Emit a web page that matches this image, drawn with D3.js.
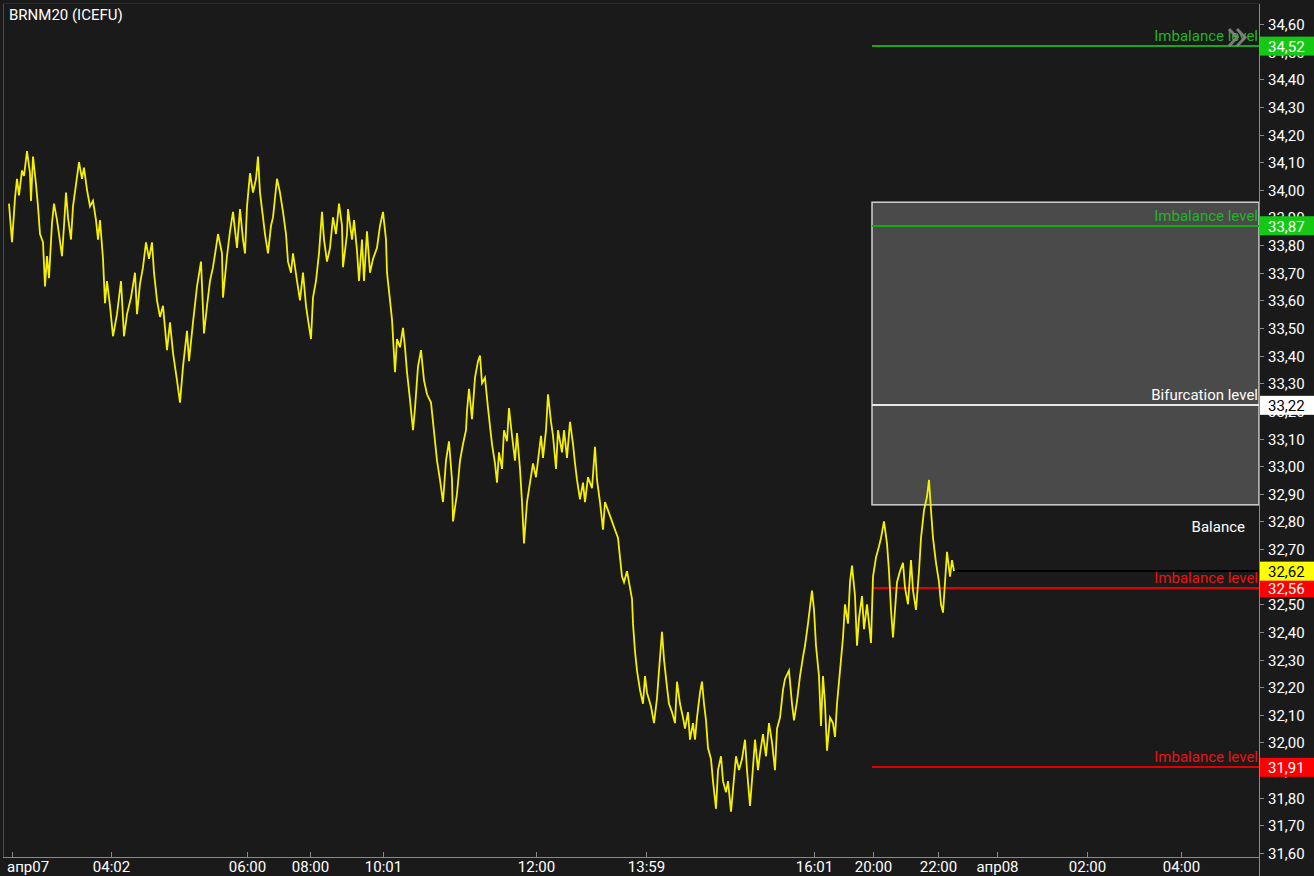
<!DOCTYPE html>
<html><head><meta charset="utf-8">
<script src="https://cdn.jsdelivr.net/npm/d3@7"></script>
<style>
html,body{margin:0;padding:0;background:#1a1a1a;overflow:hidden}
svg{display:block}
text{font-family:Roboto,"Noto Sans",sans-serif;}
</style>
</head><body>
<svg id="c" width="1314" height="876"></svg>
<script>
const title = "BRNM20 (ICEFU)";
// [bar index, price]
const series = [
[0,33.95],[3,33.81],[6,33.97],[8,34.04],[10,33.98],[13,34.07],[15,34.05],[18,34.14],[21,34.06],[22,33.96],
[24,34.12],[27,34.02],[29,33.94],[31,33.84],[34,33.81],[36,33.65],[38,33.76],[40,33.68],[43,33.88],[45,33.95],
[48,33.89],[50,33.84],[53,33.76],[55,33.87],[57,33.99],[59,33.90],[62,33.82],[64,33.94],[67,34.02],[70,34.10],
[73,34.04],[75,34.08],[78,34.00],[81,33.94],[84,33.96],[87,33.89],[89,33.82],[91,33.89],[94,33.75],[96,33.59],
[98,33.67],[101,33.58],[104,33.47],[108,33.55],[112,33.67],[115,33.47],[118,33.55],[122,33.61],[126,33.70],[128,33.55],
[131,33.66],[134,33.72],[137,33.81],[140,33.75],[143,33.81],[145,33.70],[148,33.60],[151,33.54],[154,33.58],[158,33.42],
[161,33.52],[164,33.41],[168,33.31],[171,33.23],[174,33.36],[178,33.49],[180,33.38],[184,33.52],[188,33.65],[192,33.74],
[195,33.48],[198,33.58],[201,33.67],[204,33.72],[207,33.79],[209,33.84],[213,33.77],[214,33.61],[218,33.76],[221,33.85],
[224,33.92],[228,33.79],[231,33.93],[234,33.82],[236,33.77],[238,33.94],[241,34.06],[244,33.99],[247,34.04],[249,34.12],
[251,33.99],[254,33.90],[256,33.84],[259,33.77],[262,33.87],[264,33.90],[268,34.04],[271,33.99],[274,33.92],[277,33.84],
[279,33.74],[282,33.70],[284,33.77],[288,33.67],[291,33.60],[294,33.70],[297,33.58],[299,33.53],[302,33.46],[304,33.61],
[307,33.67],[310,33.77],[313,33.92],[315,33.82],[318,33.74],[321,33.79],[324,33.90],[327,33.84],[330,33.95],[333,33.87],
[334,33.72],[338,33.84],[339,33.93],[343,33.82],[345,33.89],[348,33.78],[350,33.67],[353,33.82],[355,33.67],[358,33.85],
[361,33.70],[364,33.75],[368,33.79],[371,33.87],[374,33.92],[377,33.82],[378,33.70],[381,33.60],[383,33.53],[386,33.34],
[388,33.46],[391,33.43],[394,33.50],[396,33.43],[398,33.34],[401,33.24],[404,33.13],[406,33.21],[409,33.36],[412,33.42],
[415,33.31],[418,33.26],[422,33.23],[424,33.16],[428,33.02],[431,32.95],[434,32.87],[437,33.02],[440,33.09],[443,32.95],
[444,32.80],[448,32.90],[451,33.02],[454,33.08],[457,33.13],[458,33.20],[460,33.28],[463,33.17],[466,33.32],[469,33.38],
[471,33.40],[473,33.30],[476,33.32],[479,33.21],[483,33.08],[486,33.01],[488,32.94],[490,33.05],[493,32.99],[495,33.13],
[498,33.09],[500,33.21],[503,33.11],[506,33.02],[508,33.12],[511,32.99],[513,32.87],[515,32.72],[518,32.87],[521,32.94],
[524,33.01],[527,32.96],[529,33.02],[532,33.11],[534,33.03],[537,33.13],[539,33.26],[542,33.16],[544,33.11],[547,32.99],
[549,33.13],[553,33.05],[555,33.13],[558,33.03],[561,33.16],[564,33.08],[566,33.01],[568,32.95],[571,32.88],[574,32.94],
[576,32.87],[579,32.96],[583,32.92],[586,33.07],[588,32.95],[591,32.87],[594,32.77],[596,32.87],[599,32.84],[603,32.80],
[606,32.77],[609,32.74],[611,32.67],[613,32.60],[615,32.58],[618,32.62],[620,32.58],[623,32.52],[624,32.43],[626,32.33],
[628,32.26],[631,32.19],[634,32.14],[636,32.24],[638,32.18],[642,32.13],[645,32.07],[648,32.16],[650,32.26],[653,32.40],
[655,32.30],[658,32.20],[660,32.14],[663,32.11],[666,32.07],[668,32.22],[671,32.14],[674,32.09],[676,32.05],[679,32.11],
[681,32.01],[684,32.07],[686,32.01],[688,32.09],[691,32.18],[693,32.22],[695,32.14],[697,32.08],[699,31.98],[702,31.94],
[704,31.86],[707,31.76],[709,31.90],[712,31.95],[714,31.86],[717,31.82],[719,31.86],[722,31.75],[724,31.83],[727,31.95],
[730,31.90],[733,31.94],[736,32.01],[738,31.90],[741,31.77],[744,31.91],[746,32.01],[749,31.90],[751,31.96],[754,32.03],
[757,31.95],[760,32.07],[763,32.00],[766,31.90],[768,32.05],[771,32.09],[774,32.19],[776,32.23],[780,32.26],[783,32.14],
[785,32.08],[788,32.15],[791,32.24],[794,32.31],[796,32.35],[799,32.43],[803,32.55],[805,32.48],[807,32.35],[810,32.24],
[812,32.06],[814,32.24],[816,32.14],[818,31.97],[821,32.09],[824,32.07],[826,32.02],[828,32.14],[831,32.26],[834,32.38],
[836,32.50],[839,32.43],[841,32.58],[843,32.64],[846,32.53],[848,32.35],[850,32.45],[853,32.53],[855,32.41],[858,32.50],
[860,32.43],[862,32.36],[864,32.60],[867,32.67],[870,32.71],[872,32.74],[875,32.80],[878,32.72],[880,32.62],[882,32.48],
[884,32.38],[886,32.48],[888,32.58],[891,32.62],[894,32.65],[896,32.56],[899,32.50],[902,32.66],[904,32.55],[907,32.48],
[910,32.62],[912,32.74],[915,32.84],[918,32.89],[920,32.95],[922,32.84],[924,32.74],[927,32.65],[930,32.58],[932,32.50],
[934,32.47],[936,32.58],[938,32.69],[941,32.60],[943,32.66],[945,32.62]
];
const lastPrice = 32.62;
const barDomain = [0, 1250];
const priceDomain = [31.60, 34.60];
const timeTickBars = [3, 102, 238, 301, 374, 527, 637, 805, 864, 929, 988, 1078, 1172];
const timeTickLabels = ["апр07","04:02","06:00","08:00","10:01","12:00","13:59","16:01","20:00","22:00","апр08","02:00","04:00"];
const priceTicks = [31.6,31.7,31.8,31.9,32.0,32.1,32.2,32.3,32.4,32.5,32.6,32.7,32.8,32.9,33.0,33.1,33.2,33.3,33.4,33.5,33.6,33.7,33.8,33.9,34.0,34.1,34.2,34.3,34.4,34.5,34.6];
const levelNames = ["Imbalance level","Imbalance level","Bifurcation level","Imbalance level","Imbalance level"];
const levelValues = [34.52, 33.87, 33.22, 32.56, 31.91];
const levelKinds = ["up","up","mid","down","down"];
const zoneTop = 33.955, zoneBottom = 32.86, zoneStartBar = 863;
const balanceLabel = "Balance";
const balanceValue = 32.78;

(function () {
const W = 1314, H = 876;
const pLeft = 9, pRight = 1259, pTop = 24, pBottom = 853, axisY = 857;
const FS = 15;
const x = d3.scaleLinear().domain(barDomain).range([pLeft, pRight]);
const y = d3.scaleLinear().domain(priceDomain).range([pBottom, pTop]);
const fmt = v => d3.format(".2f")(v).replace(".", ",");

const kindStyle = {
  up:   {line:"#16a816", text:"#24b424", badge:"#14c814", badgeText:"#ffffff"},
  mid:  {line:"#e6e6e6", text:"#ffffff", badge:"#ffffff", badgeText:"#000000"},
  down: {line:"#e00000", text:"#e81414", badge:"#ff0000", badgeText:"#ffffff"}
};

const svg = d3.select("#c");
svg.append("rect").attr("width", W).attr("height", H).attr("fill", "#1a1a1a");

// frame
svg.append("line").attr("x1", 3.5).attr("x2", 3.5).attr("y1", 3).attr("y2", axisY).attr("stroke", "#4a4a4a");
svg.append("line").attr("x1", 3).attr("x2", pRight).attr("y1", 3.5).attr("y2", 3.5).attr("stroke", "#2a2a2a");

// zone box
svg.append("rect")
  .attr("x", x(zoneStartBar)).attr("y", y(zoneTop))
  .attr("width", x(barDomain[1]) - x(zoneStartBar))
  .attr("height", y(zoneBottom) - y(zoneTop))
  .attr("fill", "#4a4a4a").attr("stroke", "#d0d0d0").attr("stroke-width", 1.5);

// level lines (2px)
levelValues.forEach((v, i) => {
  const s = kindStyle[levelKinds[i]];
  svg.append("line")
    .attr("x1", x(zoneStartBar)).attr("x2", pRight)
    .attr("y1", Math.round(y(v))).attr("y2", Math.round(y(v)))
    .attr("stroke", s.line).attr("stroke-width", 2)
    .attr("shape-rendering", "crispEdges");
});

// last price line
svg.append("line")
  .attr("x1", x(series[series.length - 1][0])).attr("x2", pRight)
  .attr("y1", Math.round(y(lastPrice))).attr("y2", Math.round(y(lastPrice)))
  .attr("stroke", "#000000").attr("stroke-width", 2).attr("shape-rendering", "crispEdges");

// price line
const line = d3.line().x(d => x(d[0])).y(d => y(d[1]));
svg.append("path").datum(series)
  .attr("d", line).attr("fill", "none")
  .attr("stroke", "#f5f000").attr("stroke-width", 1.8).attr("stroke-linejoin", "miter");

// level labels
levelValues.forEach((v, i) => {
  const s = kindStyle[levelKinds[i]];
  svg.append("text")
    .attr("x", pRight - 1).attr("y", y(v) - 5)
    .attr("text-anchor", "end").attr("font-size", FS)
    .attr("fill", s.text).text(levelNames[i]);
});
svg.append("text").attr("x", 1245).attr("y", y(balanceValue) + 5)
  .attr("text-anchor", "end").attr("font-size", FS).attr("fill", "#ffffff").text(balanceLabel);

// title
svg.append("text").attr("x", 9).attr("y", 20).attr("font-size", FS).attr("fill", "#ffffff").text(title);

// y axis
svg.append("line").attr("x1", pRight + 0.5).attr("x2", pRight + 0.5).attr("y1", 4).attr("y2", H).attr("stroke", "#8a8a8a");
const yAxis = svg.append("g");
priceTicks.forEach(v => {
  const yy = Math.round(y(v)) + 0.5;
  yAxis.append("line").attr("x1", pRight).attr("x2", pRight + 5).attr("y1", yy).attr("y2", yy).attr("stroke", "#8a8a8a");
  yAxis.append("text").attr("x", 1268).attr("y", yy + 5.5).attr("font-size", FS).attr("fill", "#ffffff").text(fmt(v));
});

// x axis
svg.append("line").attr("x1", 3).attr("x2", pRight).attr("y1", axisY + 0.5).attr("y2", axisY + 0.5).attr("stroke", "#8a8a8a");
timeTickBars.forEach((b, i) => {
  const xx = Math.round(x(b)) + 0.5;
  svg.append("line").attr("x1", xx).attr("x2", xx).attr("y1", axisY - 5).attr("y2", axisY).attr("stroke", "#8a8a8a");
  const t = svg.append("text").attr("y", 872).attr("font-size", FS).attr("fill", "#ffffff").text(timeTickLabels[i]);
  const w = t.node().getComputedTextLength();
  t.attr("x", Math.max(7, xx - w / 2));
});

// badges
function badge(v, bg, fg) {
  const yy = y(v);
  svg.append("rect").attr("x", pRight + 1).attr("y", yy - 9.5).attr("width", W - pRight - 1).attr("height", 19).attr("fill", bg);
  svg.append("text").attr("x", 1268).attr("y", yy + 6).attr("font-size", FS).attr("fill", fg).text(fmt(v));
}
levelValues.forEach((v, i) => {
  const s = kindStyle[levelKinds[i]];
  badge(v, s.badge, s.badgeText);
});
badge(lastPrice, "#ffff00", "#000000");

// scroll chevrons
const ch = svg.append("g").attr("fill", "none").attr("stroke", "#8a8a8a").attr("stroke-width", 3).attr("opacity", 0.85);
ch.append("path").attr("d", "M1229,29 L1237,37.5 L1229,46");
ch.append("path").attr("d", "M1237,29 L1245,37.5 L1237,46");
})();
</script>
</body></html>
